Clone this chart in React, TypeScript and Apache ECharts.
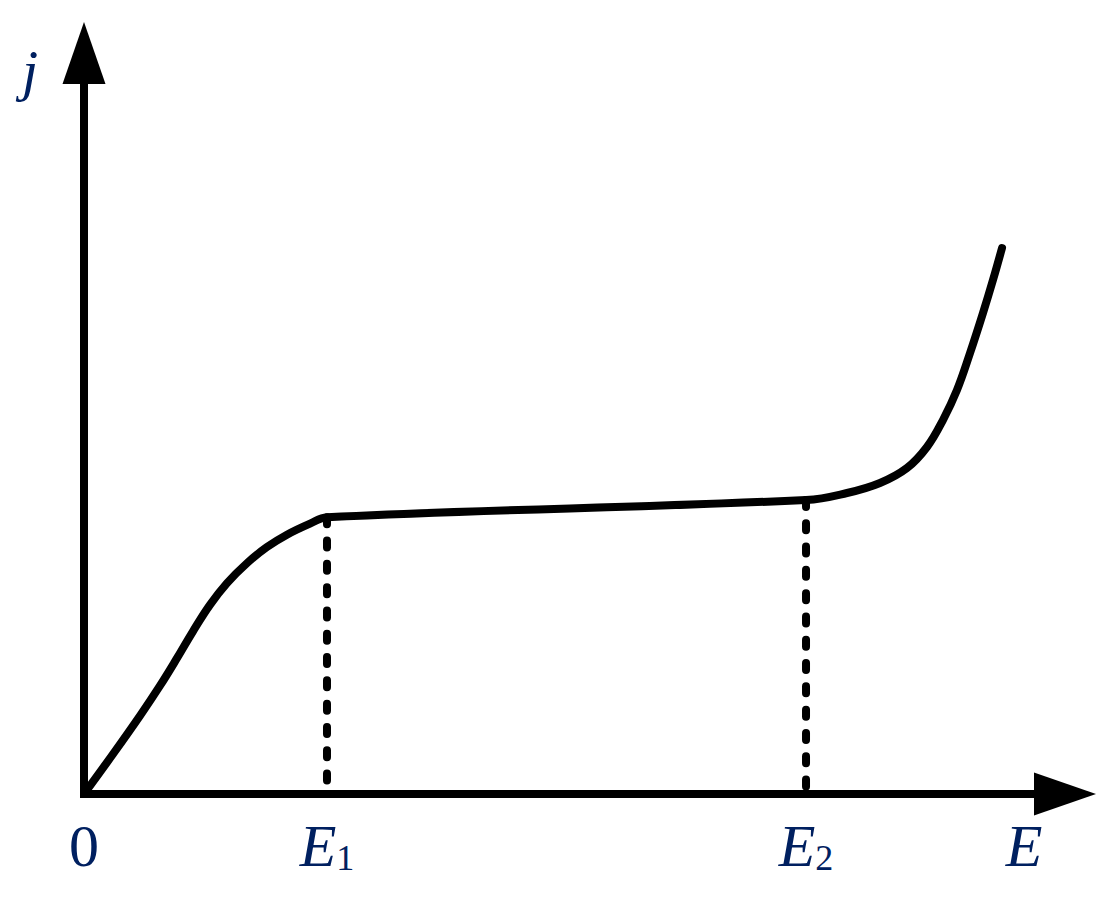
import React, { useEffect, useRef } from "react";
import * as echarts from "echarts";

// Curve j(E) (x: 0..100 along E axis, y: 0..100 along j axis)
const curveE = [0, 2.96, 5.71, 7.75, 9.48, 11.11, 12.84, 14.58, 16.62, 18.65, 20.69, 23.04, 24.77, 73.6, 77.78, 81.14, 83.89, 85.93, 87.56, 88.99, 90.32, 91.64, 92.66, 93.58];
const curveJ = [0, 5.4, 10.57, 14.62, 18.33, 21.96, 25.52, 28.46, 31.16, 33.32, 34.99, 36.48, 37.35, 39.68, 40.62, 41.97, 43.99, 46.83, 50.47, 54.52, 59.51, 64.91, 69.37, 73.68];

// Marked points E1, E2
const markE = [24.77, 73.6];
const markJ = [37.35, 39.68];

// Tick labels on the E axis
const tickValues = [0, 24.77, 73.6];
const tickLabels = ["0", "{i|E}{s|1}", "{i|E}{s|2}"];

const axisNameE = "E";
const axisNameJ = "j";

const FONT = "'Liberation Serif', 'Times New Roman', serif";
const LABEL_COLOR = "#002060";

export default function App() {
  const ref = useRef<HTMLDivElement>(null);

  useEffect(() => {
    if (!ref.current) return;
    const chart = echarts.init(ref.current, null, { renderer: "svg" });

    const axisLineStyle = { color: "#000", width: 8, cap: "square" as const };

    const option: any = {
      animation: false,
      backgroundColor: "#fff",
      grid: { left: 84, right: 48, top: 53, bottom: 108, outerBoundsMode: "none" },
      xAxis: {
        type: "value",
        min: 0,
        max: 100,
        splitLine: { show: false },
        axisTick: { show: false },
        axisLine: {
          show: true,
          onZero: false,
          lineStyle: axisLineStyle,
          symbol: ["none", "triangle"],
          symbolSize: [43, 62],
        },
        axisLabel: {
          show: true,
          customValues: tickValues,
          margin: 22,
          fontSize: 60,
          lineHeight: 60,
          fontFamily: FONT,
          color: LABEL_COLOR,
          formatter: (v: number) => {
            let best = 0;
            for (let i = 0; i < tickValues.length; i++) {
              if (Math.abs(tickValues[i] - v) < Math.abs(tickValues[best] - v)) best = i;
            }
            return tickLabels[best];
          },
          rich: {
            i: { fontSize: 60, lineHeight: 60, fontStyle: "italic", fontFamily: FONT, color: LABEL_COLOR },
            s: { fontSize: 36, lineHeight: 27, verticalAlign: "bottom", fontFamily: FONT, color: LABEL_COLOR },
          },
        },
        name: axisNameE,
        nameLocation: "end",
        nameGap: -41,
        nameTextStyle: {
          fontSize: 60,
          lineHeight: 60,
          fontStyle: "italic",
          fontFamily: FONT,
          color: LABEL_COLOR,
          align: "center",
          verticalAlign: "top",
          padding: [22, 0, 0, 0],
        },
      },
      yAxis: {
        type: "value",
        min: 0,
        max: 100,
        splitLine: { show: false },
        axisTick: { show: false },
        axisLabel: { show: false },
        axisLine: {
          show: true,
          onZero: false,
          lineStyle: axisLineStyle,
          symbol: ["none", "triangle"],
          symbolSize: [43, 62],
        },
        name: axisNameJ,
        nameLocation: "end",
        nameGap: -17,
        nameTextStyle: {
          fontSize: 58,
          lineHeight: 58,
          fontStyle: "italic",
          fontFamily: FONT,
          color: LABEL_COLOR,
          align: "right",
          verticalAlign: "middle",
          padding: [0, 46, 0, 0],
        },
      },
      series: [
        {
          type: "line",
          data: curveE.map((e, k) => [e, curveJ[k]]),
          smooth: 0.4,
          showSymbol: false,
          symbol: "none",
          lineStyle: { color: "#000", width: 8, cap: "round", join: "round" },
          z: 3,
        },
        ...markE.map((e, k) => ({
          type: "line",
          data: [
            [e, markJ[k]],
            [e, 0],
          ],
          showSymbol: false,
          symbol: "none",
          lineStyle: { color: "#000", width: 8, type: [7, 16.3], cap: "round" },
          z: 2,
        })),
      ],
    };

    chart.setOption(option);
    return () => chart.dispose();
  }, []);

  return (
    <div
      ref={ref}
      style={{ position: "absolute", left: 0, top: 0, width: 1113, height: 902, background: "#fff" }}
    />
  );
}
